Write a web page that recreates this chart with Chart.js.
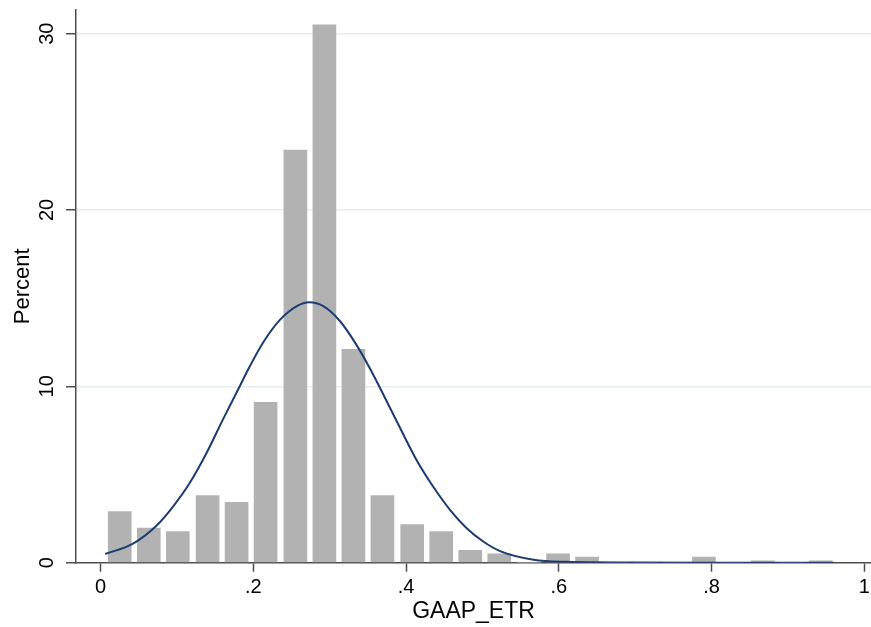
<!DOCTYPE html>
<html>
<head>
<meta charset="utf-8">
<title>GAAP_ETR histogram</title>
<script src="https://cdn.jsdelivr.net/npm/chart.js@4.4.0/dist/chart.umd.min.js"></script>
<style>
    html, body { margin: 0; padding: 0; background: #ffffff; }
    #wrap { width: 871px; height: 627px; }
</style>
</head>
<body>
<div id="wrap"><canvas id="histogram-chart" width="871" height="627"></canvas></div>
<script>
// 直方图数据
const binCenters = [0.025, 0.063, 0.101, 0.140, 0.178, 0.216, 0.255, 0.293, 0.331, 0.369,
                    0.408, 0.446, 0.484, 0.522, 0.561, 0.599, 0.637, 0.675, 0.714, 0.752,
                    0.790, 0.828, 0.867, 0.905, 0.943];
const binPercent = [2.9, 1.97, 1.76, 3.8, 3.42, 9.1, 23.4, 30.5, 12.1, 3.8,
                    2.16, 1.76, 0.7, 0.5, 0, 0.5, 0.32, 0, 0, 0,
                    0.32, 0, 0.1, 0, 0.1];

// 正态密度曲线（按图中位置读取的点）
const curveX = [0.006, 0.043, 0.074, 0.095, 0.117, 0.139, 0.161, 0.178, 0.1955, 0.213,
                0.235, 0.257, 0.273, 0.2915, 0.313, 0.335, 0.353, 0.370, 0.392, 0.414,
                0.436, 0.458, 0.479, 0.501, 0.523, 0.567, 0.610, 0.700, 0.800, 0.960];
const curveY = [0.49, 1.10, 2.14, 3.2, 4.55, 6.25, 8.2, 9.65, 11.15, 12.5,
                13.78, 14.55, 14.77, 14.55, 13.72, 12.35, 10.98, 9.55, 7.65, 5.8,
                4.28, 2.97, 1.97, 1.2, 0.66, 0.17, 0.05, 0.01, 0, 0];

// 坐标轴刻度
const xTicks = [0, 0.2, 0.4, 0.6, 0.8, 1];
const yTicks = [0, 10, 20, 30];

const axisColor = '#4d4d4d';
const fontFamily = '"Liberation Sans", Arial, Helvetica, sans-serif';

function formatX(v) {
    // Stata 风格: 0.2 -> .2
    if (v === 0) return '0';
    if (v === 1) return '1';
    return String(v).replace(/^0\./, '.');
}

document.addEventListener('DOMContentLoaded', function() {
    const ctx = document.getElementById('histogram-chart');

    new Chart(ctx, {
        type: 'bar',
        data: {
            datasets: [{
                type: 'line',
                data: curveX.map((x, i) => ({ x: x, y: curveY[i] })),
                borderColor: '#1c3c70',
                borderWidth: 2,
                pointRadius: 0,
                fill: false,
                cubicInterpolationMode: 'monotone',
                order: 1
            }, {
                type: 'bar',
                data: binCenters.map((x, i) => ({ x: x, y: binPercent[i] })),
                backgroundColor: '#b2b2b2',
                borderWidth: 0,
                barThickness: 23,
                order: 2
            }]
        },
        options: {
            responsive: false,
            animation: false,
            layout: { padding: { top: 10, right: 0, left: 0, bottom: 0 } },
            plugins: {
                legend: { display: false },
                tooltip: { enabled: false }
            },
            scales: {
                x: {
                    type: 'linear',
                    min: -0.0323,
                    max: 1.0088,
                    offset: false,
                    afterBuildTicks: function(scale) {
                        scale.ticks = xTicks.map(v => ({ value: v }));
                    },
                    afterFit: function(scale) {
                        scale.height = 64.3;
                        scale.paddingLeft = 0;
                        scale.paddingRight = 0;
                    },
                    border: { display: true, color: axisColor, width: 1.5 },
                    grid: {
                        offset: false,
                        drawOnChartArea: false,
                        drawTicks: true,
                        tickLength: 9,
                        tickColor: axisColor,
                        tickWidth: 1.5
                    },
                    ticks: {
                        padding: 4,
                        color: '#000',
                        font: { family: fontFamily, size: 20 },
                        maxRotation: 0,
                        callback: function(value) { return formatX(value); }
                    },
                    title: {
                        display: true,
                        text: 'GAAP_ETR',
                        color: '#000',
                        font: { family: fontFamily, size: 23 },
                        padding: { top: 0, bottom: 2 }
                    }
                },
                y: {
                    type: 'linear',
                    min: 0,
                    max: 31.34,
                    afterBuildTicks: function(scale) {
                        scale.ticks = yTicks.map(v => ({ value: v }));
                    },
                    afterFit: function(scale) {
                        scale.width = 76;
                        scale.paddingTop = 0;
                        scale.paddingBottom = 0;
                    },
                    border: { display: true, color: axisColor, width: 1.5 },
                    grid: {
                        offset: false,
                        color: function(c) { return c.tick && c.tick.value === 0 ? 'rgba(0,0,0,0)' : '#e6eef1'; },
                        lineWidth: 1.5,
                        drawTicks: true,
                        tickLength: 10,
                        tickColor: axisColor,
                        tickWidth: 1.5
                    },
                    ticks: {
                        padding: 7,
                        color: '#000',
                        font: { family: fontFamily, size: 20 },
                        minRotation: 90,
                        maxRotation: 90,
                        crossAlign: 'center'
                    },
                    title: {
                        display: true,
                        text: 'Percent',
                        color: '#000',
                        font: { family: fontFamily, size: 22 },
                        padding: { top: 10, bottom: 0 }
                    }
                }
            }
        }
    });
});
</script>
</body>
</html>
